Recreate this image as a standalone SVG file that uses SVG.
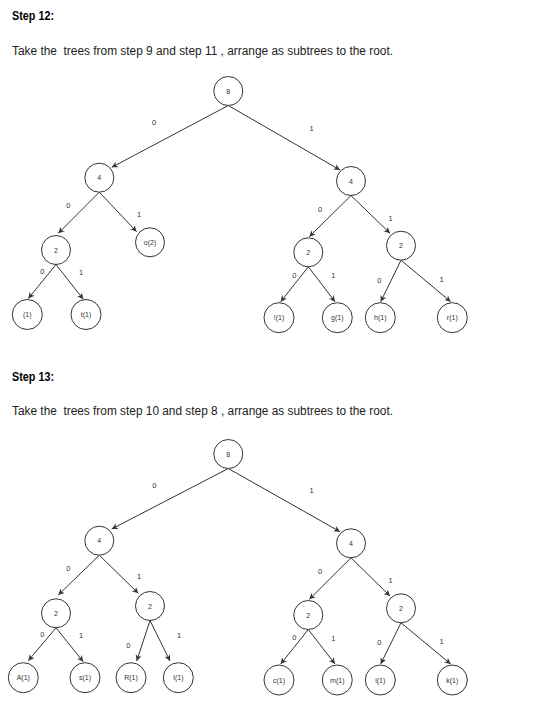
<svg xmlns="http://www.w3.org/2000/svg" width="560" height="703" viewBox="0 0 560 703">
<style>
.hd{font-family:"Liberation Sans",Arial,sans-serif;font-size:12px;font-weight:bold;fill:#000}
.tx{font-family:"Liberation Sans",Arial,sans-serif;font-size:12px;fill:#222;white-space:pre}
.nd circle{fill:#fff;stroke:#333;stroke-width:1}
.nd text{font-family:"Liberation Sans",Arial,sans-serif;font-size:7px;fill:#333;text-anchor:middle;dominant-baseline:central}
.ed path{fill:none;stroke:#333;stroke-width:1;marker-end:url(#arr)}
.lb{font-family:"Liberation Sans",Arial,sans-serif;font-size:7.5px;fill:#333;text-anchor:middle;dominant-baseline:central}
</style>
<defs>
<marker id="arr" viewBox="0 0 8 8" refX="7" refY="4" markerWidth="7" markerHeight="7" markerUnits="userSpaceOnUse" orient="auto">
<path d="M0,0.5 L7,4 L0,7.5 L2,4 z" fill="#333"/>
</marker>
</defs>
<rect width="560" height="703" fill="#fff"/>
<text class="hd" x="12" y="19.5" textLength="42" lengthAdjust="spacingAndGlyphs">Step 12:</text>
<text class="tx" x="12" y="54.5" textLength="381" lengthAdjust="spacingAndGlyphs" xml:space="preserve">Take the  trees from step 9 and step 11 , arrange as subtrees to the root.</text>
<text class="hd" x="12" y="381" textLength="42" lengthAdjust="spacingAndGlyphs">Step 13:</text>
<text class="tx" x="12" y="414.5" textLength="381" lengthAdjust="spacingAndGlyphs" xml:space="preserve">Take the  trees from step 10 and step 8 , arrange as subtrees to the root.</text>

<g id="connectors" class="ed">
<!-- top tree -->
<path d="M228.3,105.5 L111.7,167.3"/>
<path d="M228.3,105.5 L340,170"/>
<path d="M99.3,192.2 L58.3,233.3"/>
<path d="M99.3,192.2 L136.7,231.7"/>
<path d="M56,264.5 L28.3,298.5"/>
<path d="M56,264.5 L83.3,299.3"/>
<path d="M351,195.5 L309.3,236.7"/>
<path d="M351,195.5 L390,233.3"/>
<path d="M308.3,266.8 L280.7,301.7"/>
<path d="M308.3,266.8 L335,301.7"/>
<path d="M401,260.2 L380.7,301.7"/>
<path d="M401,260.2 L450.7,301.7"/>
<!-- bottom tree -->
<path d="M228.3,468.5 L111.7,529"/>
<path d="M228.3,468.5 L340,531.7"/>
<path d="M99.3,555.2 L58.3,595"/>
<path d="M99.3,555.2 L138.3,593.3"/>
<path d="M56,627.8 L28.3,660.7"/>
<path d="M56,627.8 L83.3,661.7"/>
<path d="M150,620.5 L136.7,661"/>
<path d="M150,620.5 L170,661"/>
<path d="M351,557.8 L309.3,599.3"/>
<path d="M351,557.8 L390,596"/>
<path d="M308.3,629.5 L280.7,664"/>
<path d="M308.3,629.5 L335,664"/>
<path d="M401,622.8 L380.7,664"/>
<path d="M401,622.8 L450.7,664"/>
</g>

<g id="edge-labels">
<text class="lb" x="154" y="122.7">0</text>
<text class="lb" x="311.7" y="128.3">1</text>
<text class="lb" x="68.3" y="205.7">0</text>
<text class="lb" x="139" y="214.3">1</text>
<text class="lb" x="42.3" y="271.7">0</text>
<text class="lb" x="81" y="272.3">1</text>
<text class="lb" x="320" y="209">0</text>
<text class="lb" x="390.7" y="218.3">1</text>
<text class="lb" x="294.3" y="275">0</text>
<text class="lb" x="333.3" y="275.7">1</text>
<text class="lb" x="379.3" y="280.7">0</text>
<text class="lb" x="441.7" y="279.3">1</text>
<text class="lb" x="154.3" y="485.7">0</text>
<text class="lb" x="311.7" y="490.7">1</text>
<text class="lb" x="68.3" y="568.3">0</text>
<text class="lb" x="139" y="576.7">1</text>
<text class="lb" x="42.3" y="634">0</text>
<text class="lb" x="81" y="635">1</text>
<text class="lb" x="128.3" y="645">0</text>
<text class="lb" x="179" y="635">1</text>
<text class="lb" x="320" y="571.7">0</text>
<text class="lb" x="390.7" y="580.7">1</text>
<text class="lb" x="294.3" y="637.3">0</text>
<text class="lb" x="333.3" y="638.3">1</text>
<text class="lb" x="379.3" y="642.7">0</text>
<text class="lb" x="441.7" y="641.7">1</text>
</g>

<!-- top tree nodes -->
<g id="t-root" class="nd"><circle cx="228.3" cy="91" r="14.5"/><text x="228.3" y="91">8</text></g>
<g id="t-l4" class="nd"><circle cx="99.3" cy="177.7" r="14.5"/><text x="99.3" y="177.7">4</text></g>
<g id="t-r4" class="nd"><circle cx="351" cy="181" r="14.5"/><text x="351" y="181">4</text></g>
<g id="t-l2" class="nd"><circle cx="56" cy="250" r="14.5"/><text x="56" y="250">2</text></g>
<g id="t-o2" class="nd"><circle cx="150" cy="242.3" r="14.5"/><text x="150" y="242.3">o(2)</text></g>
<g id="t-sp1" class="nd"><circle cx="27.3" cy="314.5" r="15"/><text x="27.3" y="314.5">(1)</text></g>
<g id="t-t1" class="nd"><circle cx="86" cy="314.5" r="15"/><text x="86" y="314.5">t(1)</text></g>
<g id="t-rl2" class="nd"><circle cx="308.3" cy="252.3" r="14.5"/><text x="308.3" y="252.3">2</text></g>
<g id="t-rr2" class="nd"><circle cx="401" cy="245.7" r="14.5"/><text x="401" y="245.7">2</text></g>
<g id="t-ex1" class="nd"><circle cx="279" cy="317.7" r="15"/><text x="279" y="317.7">!(1)</text></g>
<g id="t-g1" class="nd"><circle cx="337.3" cy="317.7" r="15"/><text x="337.3" y="317.7">g(1)</text></g>
<g id="t-h1" class="nd"><circle cx="380.3" cy="317.7" r="15"/><text x="380.3" y="317.7">h(1)</text></g>
<g id="t-r1" class="nd"><circle cx="452.3" cy="317.7" r="15"/><text x="452.3" y="317.7">r(1)</text></g>

<!-- bottom tree nodes -->
<g id="b-root" class="nd"><circle cx="228.3" cy="454" r="14.5"/><text x="228.3" y="454">8</text></g>
<g id="b-l4" class="nd"><circle cx="99.3" cy="540.7" r="14.5"/><text x="99.3" y="540.7">4</text></g>
<g id="b-r4" class="nd"><circle cx="351" cy="543.3" r="14.5"/><text x="351" y="543.3">4</text></g>
<g id="b-ll2" class="nd"><circle cx="56" cy="613.3" r="14.5"/><text x="56" y="613.3">2</text></g>
<g id="b-lr2" class="nd"><circle cx="150" cy="606" r="14.5"/><text x="150" y="606">2</text></g>
<g id="b-A1" class="nd"><circle cx="23.3" cy="677.7" r="15"/><text x="23.3" y="677.7">A(1)</text></g>
<g id="b-s1" class="nd"><circle cx="85" cy="677.7" r="15"/><text x="85" y="677.7">s(1)</text></g>
<g id="b-R1" class="nd"><circle cx="131" cy="677.7" r="15"/><text x="131" y="677.7">R(1)</text></g>
<g id="b-I1" class="nd"><circle cx="178.3" cy="677.7" r="15"/><text x="178.3" y="677.7">I(1)</text></g>
<g id="b-rl2" class="nd"><circle cx="308.3" cy="615" r="14.5"/><text x="308.3" y="615">2</text></g>
<g id="b-rr2" class="nd"><circle cx="401" cy="608.3" r="14.5"/><text x="401" y="608.3">2</text></g>
<g id="b-c1" class="nd"><circle cx="279" cy="680" r="15"/><text x="279" y="680">c(1)</text></g>
<g id="b-m1" class="nd"><circle cx="337.3" cy="680" r="15"/><text x="337.3" y="680">m(1)</text></g>
<g id="b-i1" class="nd"><circle cx="380.3" cy="680" r="15"/><text x="380.3" y="680">i(1)</text></g>
<g id="b-k1" class="nd"><circle cx="452.3" cy="680" r="15"/><text x="452.3" y="680">k(1)</text></g>
</svg>
